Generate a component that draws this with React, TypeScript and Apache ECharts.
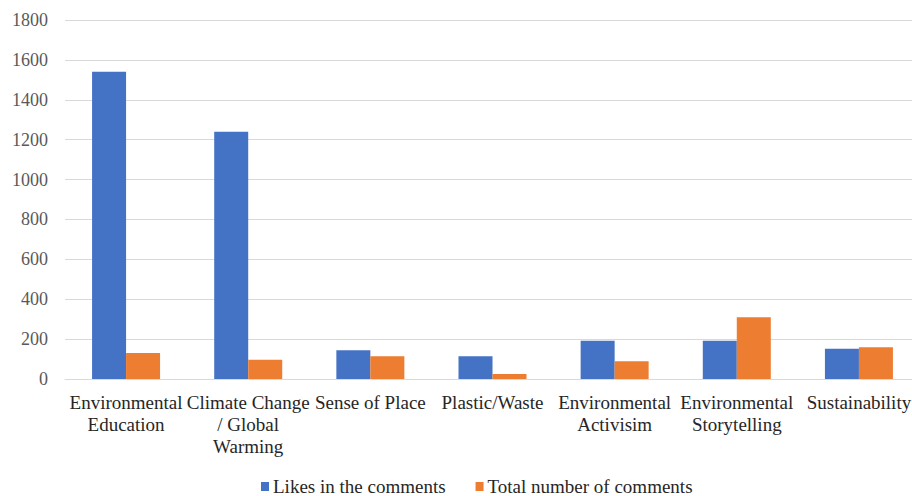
import React, { useEffect, useRef } from "react";
import * as echarts from "echarts";

const categories = [
  "Environmental\nEducation",
  "Climate Change\n/ Global\nWarming",
  "Sense of Place",
  "Plastic/Waste",
  "Environmental\nActivisim",
  "Environmental\nStorytelling",
  "Sustainability",
];
const likes = [1540, 1240, 144, 114, 192, 192, 152];
const totals = [130, 97, 114, 25, 89, 309, 159];
const yTicks = { min: 0, max: 1800, interval: 200 };

const FONT = "'Liberation Serif', 'Times New Roman', serif";

export default function App() {
  const ref = useRef<HTMLDivElement>(null);
  useEffect(() => {
    if (!ref.current) return;
    const chart = echarts.init(ref.current, null, { renderer: "svg" });
    chart.setOption({
      animation: false,
      textStyle: { fontFamily: FONT },
      grid: { left: 65, width: 855, top: 20, bottom: 117, containLabel: false },
      legend: {
        top: 472,
        left: 256,
        itemWidth: 8,
        itemHeight: 9,
        itemGap: 30,
        icon: "rect",
        textStyle: { fontFamily: FONT, fontSize: 19, color: "#262626", padding: [0, 0, 0, -1] },
        data: ["Likes in the comments", "Total number of comments"],
      },
      xAxis: {
        type: "category",
        data: categories,
        axisLine: { lineStyle: { color: "#d9d9d9", width: 1 } },
        axisTick: { show: false },
        axisLabel: {
          interval: 0,
          fontFamily: FONT,
          fontSize: 19,
          color: "#262626",
          lineHeight: 22,
          margin: 12,
        },
      },
      yAxis: {
        type: "value",
        min: yTicks.min,
        max: yTicks.max,
        interval: yTicks.interval,
        axisLine: { show: false },
        axisTick: { show: false },
        splitLine: { lineStyle: { color: "#d9d9d9", width: 1 } },
        axisLabel: {
          fontFamily: FONT,
          fontSize: 18,
          color: "#595959",
          margin: 17,
          formatter: (v: number) => String(v),
        },
      },
      series: [
        {
          name: "Likes in the comments",
          type: "bar",
          data: likes,
          barWidth: 34,
          barGap: "0%",
          itemStyle: { color: "#4472C4" },
        },
        {
          name: "Total number of comments",
          type: "bar",
          data: totals,
          barWidth: 34,
          barGap: "0%",
          itemStyle: { color: "#ED7D31" },
        },
      ],
    });
    return () => chart.dispose();
  }, []);
  return (
    <div
      style={{
        position: "absolute",
        left: 0,
        top: 0,
        width: 912,
        height: 496,
        overflow: "hidden",
        background: "#fff",
      }}
    >
      <div ref={ref} style={{ width: 930, height: 496 }} />
    </div>
  );
}
